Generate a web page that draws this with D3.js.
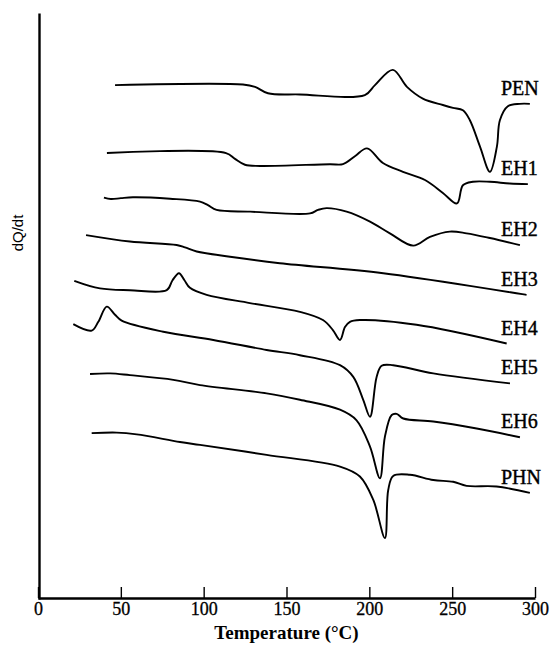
<!DOCTYPE html>
<html>
<head>
<meta charset="utf-8">
<script src="https://cdn.jsdelivr.net/npm/d3@7"></script>
<style>
body { margin: 0; background: #fff; }
</style>
</head>
<body>
<div id="chart"></div>
<script>
// DSC traces: [temperature °C, dQ/dt (arbitrary units, curves offset)]
const PEN = [[46.5,87.7],[123.7,87.8],[131,87.4],[138.8,86.3],[158,86.1],[197.3,86.0],[203.4,87.7],[214.2,90.3],[222.7,87.4],[232.3,85.4],[244.4,84.3],[250.5,83.8],[256.5,83.4],[260.7,81.7],[266.8,77.2],[272.8,72.9],[277,77.2],[278.8,81.7],[283.6,84.1],[290.9,84.5],[296.9,84.5]];
const EH1 = [[41.6,76.1],[113.5,76.1],[118.9,75.1],[124.9,74.1],[134,73.9],[176.2,74.2],[184.1,74.2],[191.5,75.6],[198.6,76.9],[208.2,74.4],[220.3,72.9],[233.6,71.5],[244.4,69.3],[252.9,67.5],[256.5,70.6],[262.5,71.2],[272.8,71.2],[284.8,70.9],[295.7,70.8]];
const EH2 = [[39.8,68.5],[44,68.25],[50,68.4],[57.3,68.55],[79.7,68.3],[97.8,67.8],[102.6,67.2],[107.8,66.4],[128,66.1],[164.2,65.8],[169,66.4],[174.2,66.7],[186.3,66.1],[200.4,64.4],[212.4,62.4],[226.5,60.3],[236.6,61.8],[248.6,62.7],[258.7,62.4],[272.8,61.6],[290.9,60.4]];
const EH3 = [[29,62.1],[55.5,61.0],[83.7,60.4],[88.7,60.0],[95.8,59.3],[115.9,58.4],[146,57.3],[208.4,55.6],[294.9,51.9]];
const EH4 = [[21.9,54.3],[37.4,53.0],[55.5,52.7],[77.7,52.7],[81.2,54.4],[85.1,55.6],[88.4,54.4],[91.7,53.1],[101.8,51.9],[127.9,50.5],[158.1,49.0],[172,47.6],[178,45.9],[182.3,44.2],[185.3,46.4],[188.3,47.3],[194.3,47.6],[228.5,46.8],[282.9,43.6]];
const EH5 = [[21.3,46.9],[32.4,45.8],[36.4,47.3],[41.5,49.9],[46.5,48.5],[50.5,47.5],[75.6,45.6],[105.8,44.2],[138,42.5],[158.1,41.6],[182.3,39.9],[190.3,37.9],[196.3,34.0],[200.4,31.1],[204.4,37.9],[207.4,39.8],[214.4,39.9],[238.6,38.5],[284.9,36.8]];
const EH6 = [[31.4,38.4],[43.5,38.5],[55.5,38.2],[81.7,37.4],[97.8,36.5],[138,35.1],[158.1,34.0],[182.3,32.3],[192.3,30.5],[200.4,26.0],[206.4,20.6],[209.4,27.7],[213.5,31.4],[216.5,31.6],[220.5,30.8],[238.6,30.3],[264.8,29.1],[290.9,27.6]];
const PHN = [[32.4,28.3],[47.5,28.4],[59.6,28.1],[85.7,26.8],[97.8,26.3],[138,24.6],[182.3,22.6],[194.3,20.9],[202.4,16.9],[209.4,10.4],[211.4,18.6],[214.4,21.0],[224.5,21.2],[238.6,20.3],[250.6,20.0],[258.7,19.3],[276.8,19.2],[296.9,18.1]];

const names = ['PEN', 'EH1', 'EH2', 'EH3', 'EH4', 'EH5', 'EH6', 'PHN'];
const curves = [PEN, EH1, EH2, EH3, EH4, EH5, EH6, PHN];
const xTicks = [0, 50, 100, 150, 200, 250, 300];

let drawChart = function () {
    const w = 550, h = 645;
    const svg = d3.select('#chart').append('svg')
        .attr('width', w)
        .attr('height', h)
        .style('display', 'block');

    const x = d3.scaleLinear().domain([0, 300]).range([38, 535]);
    const y = d3.scaleLinear().domain([0, 100]).range([599, 13]);

    // x axis, ticks pointing inward
    const xAxis = svg.append('g')
        .attr('transform', 'translate(0,598)')
        .call(d3.axisBottom(x).tickValues(xTicks).tickSize(-11).tickSizeOuter(0).tickPadding(4));
    xAxis.select('.domain').attr('stroke-width', 2.4);
    xAxis.selectAll('.tick line').attr('stroke-width', 1.4);
    xAxis.selectAll('.tick text')
        .style('font-family', '"Liberation Serif", serif')
        .style('font-size', '18px')
        .attr('fill', '#000')
        .attr('stroke', '#000')
        .attr('stroke-width', 0.3);

    const yAxis = svg.append('g')
        .attr('transform', 'translate(39,0)')
        .call(d3.axisLeft(y).tickValues([]).tickSizeOuter(0));
    yAxis.select('.domain').attr('stroke-width', 2.4);

    svg.append('text')
        .attr('x', (x(0) + x(300)) / 2)
        .attr('y', 639)
        .attr('text-anchor', 'middle')
        .style('font-family', '"Liberation Serif", serif')
        .style('font-weight', 'bold')
        .style('font-size', '19px')
        .text('Temperature (°C)');

    svg.append('text')
        .attr('transform', 'translate(23,233) rotate(-90)')
        .attr('text-anchor', 'middle')
        .style('font-family', '"Liberation Sans", Arial, sans-serif')
        .style('font-size', '15px')
        .text('dQ/dt');

    const line = d3.line()
        .x(d => x(d[0]))
        .y(d => y(d[1]))
        .curve(d3.curveCatmullRom.alpha(0.5));

    svg.selectAll('path.trace')
        .data(curves)
        .enter()
        .append('path')
        .attr('class', 'trace')
        .attr('d', line)
        .attr('fill', 'none')
        .attr('stroke', '#000')
        .attr('stroke-width', 1.9)
        .attr('stroke-linejoin', 'round');

    svg.selectAll('text.name')
        .data(curves)
        .enter()
        .append('text')
        .attr('class', 'name')
        .attr('x', x(300) - 34)
        .attr('y', d => y(d[d.length - 1][1]) - 9)
        .style('font-family', '"Liberation Serif", serif')
        .style('font-size', '20px')
        .attr('stroke', '#000')
        .attr('stroke-width', 0.4)
        .text((d, i) => names[i]);
}

drawChart();
</script>
</body>
</html>
